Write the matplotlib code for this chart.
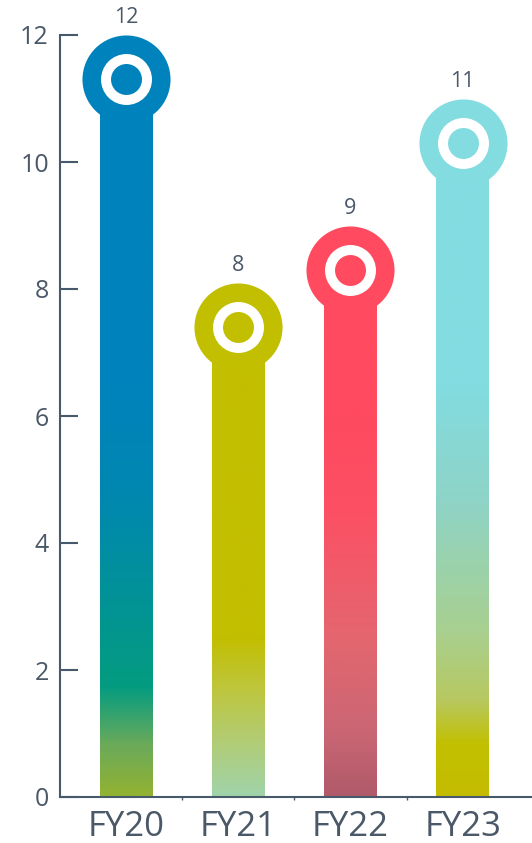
import matplotlib.pyplot as plt
import numpy as np
from matplotlib.colors import LinearSegmentedColormap
from matplotlib.transforms import offset_copy

plt.rcParams['font.family'] = ['Open Sans', 'DejaVu Sans']

years = ["FY20", "FY21", "FY22", "FY23"]
values = [12.0, 8.1, 9.0, 11.0]

# colour stops per bar: (height in data units, colour), bottom to top
stops = [
    [(0.0, "#92B232"), (0.8, "#6AAA5A"), (1.7, "#049C80"), (4.7, "#0088B0"), (6.5, "#0082BC")],
    [(0.0, "#A0D4AA"), (0.9, "#B2CC72"), (1.7, "#BEC63C"), (2.5, "#C2BE00")],
    [(0.0, "#B05A6A"), (1.0, "#CA6674"), (2.5, "#E4666F"), (4.5, "#FC5064"), (6.0, "#FF4A5F")],
    [(0.0, "#C4BC00"), (0.8, "#C2C000"), (1.5, "#B8C860"), (2.6, "#A8D090"), (4.7, "#8ED4C8"), (6.5, "#82DCE0")],
]
tops = ["#0082BC", "#C2BE00", "#FF4A5F", "#82DCE0"]

axis_col = "#465A6C"
text_col = "#4A5868"

W, H = 532, 843
fig = plt.figure(figsize=(W / 100, H / 100), dpi=100)
ax = fig.add_axes([60 / W, 46 / H, 472 / W, 762 / H])

ymax = 12
px_per_unit = 762 / ymax
r_px = 44
r_data = r_px / px_per_unit
bar_w = 0.47

for i, (v, st, tc) in enumerate(zip(values, stops, tops)):
    top = v - r_data
    pos = [min(h / top, 1.0) for h, _ in st]
    cols = [c for _, c in st]
    if pos[-1] < 1.0:
        pos.append(1.0)
        cols.append(tc)
    cmap = LinearSegmentedColormap.from_list(years[i], list(zip(pos, cols)))
    grad = np.linspace(0, 1, 400).reshape(-1, 1)
    ax.imshow(grad, cmap=cmap, aspect='auto', origin='lower',
              extent=[i - bar_w / 2, i + bar_w / 2, 0, top], zorder=2)

# ring markers, drawn so the outer edge touches the value
r_pt = r_px * 72 / 100
ring_tr = offset_copy(ax.transData, fig=fig, y=-r_pt, units='points')
x = np.arange(len(values))
for i, v in enumerate(values):
    ax.plot(i, v, 'o', ms=63.4, color=tops[i], mec='none', transform=ring_tr, zorder=3, clip_on=False)
    ax.plot(i, v, 'o', ms=36.7, color='white', mec='none', transform=ring_tr, zorder=4, clip_on=False)
    ax.plot(i, v, 'o', ms=22.3, color=tops[i], mec='none', transform=ring_tr, zorder=5, clip_on=False)
    ax.annotate(f"{v:.0f}", (i, v), xytext=(0, 5), textcoords='offset points',
                ha='center', va='bottom', fontsize=15.5, color=text_col, annotation_clip=False)

ax.set_xlim(-0.588, 3.618)
ax.set_ylim(0, ymax)
ax.set_xticks(x)
ax.set_xticklabels(years, fontsize=25, color=text_col)
ax.set_xticks([0.5, 1.5, 2.5], minor=True)
ax.set_yticks(range(0, 13, 2))
ax.tick_params(axis='y', direction='in', length=13, width=1.5, color=axis_col,
               labelsize=18, labelcolor=text_col, pad=8)
ax.tick_params(axis='x', which='major', length=0, pad=9)
ax.tick_params(axis='x', which='minor', length=2, width=1, color=axis_col)

for s in ['top', 'right']:
    ax.spines[s].set_visible(False)
for s in ['left', 'bottom']:
    ax.spines[s].set_color(axis_col)
    ax.spines[s].set_linewidth(1.5)

fig.savefig("out.png", dpi=100)
